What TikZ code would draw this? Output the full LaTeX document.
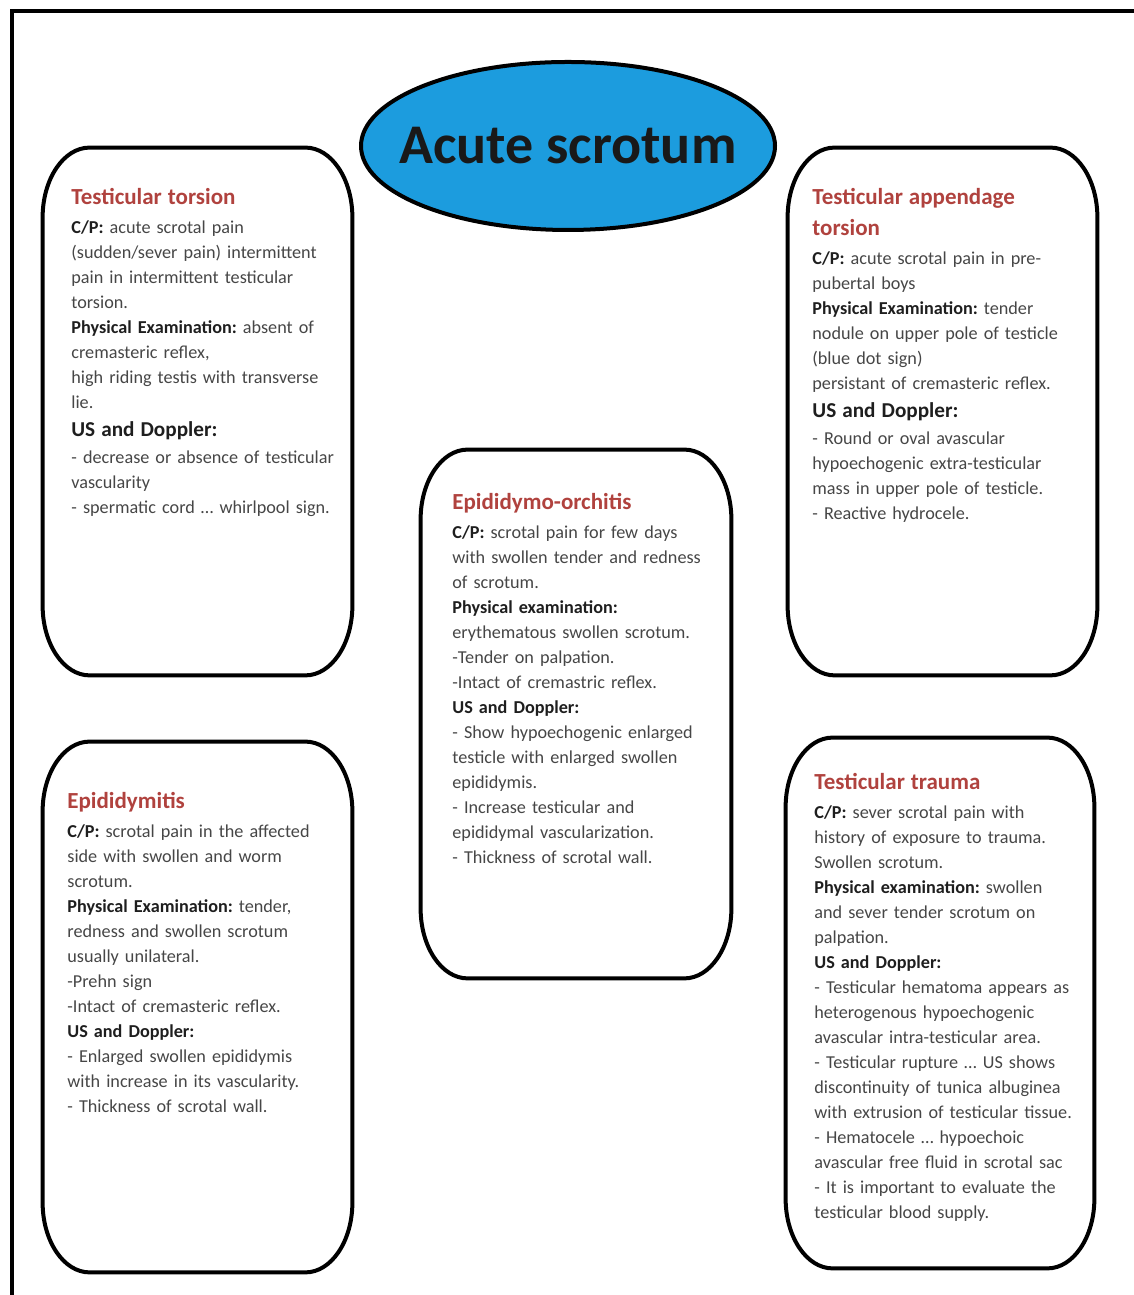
\documentclass[tikz,border=0pt]{standalone}
\usepackage{fontspec}
\setmainfont{Carlito}
\usetikzlibrary{shapes.geometric,calc}
\definecolor{titlered}{RGB}{176,66,62}
\definecolor{bodygray}{RGB}{70,70,70}
\definecolor{labcol}{RGB}{30,30,30}
\definecolor{ovalblue}{RGB}{28,156,222}
\newcommand\lab[1]{{\color{labcol}\bfseries #1}}
\newcommand\ttl[1]{{\fontsize{11.5}{12.5}\selectfont\bfseries\color{titlered}#1}}
\newcommand\bighead[1]{{\fontsize{10.6}{12.5}\selectfont\bfseries\color{labcol}#1}}
\newcommand\ovalframe[1]{%
  \draw[boxline] let \p1=(#1.south west), \p2=(#1.north east) in
    (\x1+23.5pt,\y2) -- (\x2-23.5pt,\y2)
    arc[start angle=90,end angle=0,x radius=23.5pt,y radius=35pt]
    -- (\x2,\y1+35pt)
    arc[start angle=0,end angle=-90,x radius=23.5pt,y radius=35pt]
    -- (\x1+23.5pt,\y1)
    arc[start angle=270,end angle=180,x radius=23.5pt,y radius=35pt]
    -- (\x1,\y2-35pt)
    arc[start angle=180,end angle=90,x radius=23.5pt,y radius=35pt]
    -- cycle;}
\tikzset{
  boxline/.style={line width=2pt, black},
  frameline/.style={line width=2pt, black},
  boxarea/.style={rectangle, draw=none, inner sep=0pt},
  boxtext/.style={anchor=north west, inner sep=0pt, align=left, text width=160pt,
    text=bodygray, font=\fontsize{9.1}{12.5}\selectfont\frenchspacing},
}
\begin{document}
\begin{tikzpicture}[x=0.5pt,y=0.5pt]
\useasboundingbox (0,0) rectangle (1134,1295);
% outer frame (left and top edges)
\coordinate (fbl) at (12,0);
\coordinate (ftl) at (12,1284);
\coordinate (ftr) at (1134,1284);
\draw[frameline] (fbl) -- (ftl) -- (ftr);

% title ellipse
\node[ellipse, draw=black, line width=2pt, fill=ovalblue, minimum width=207pt,
  minimum height=84pt, inner sep=0pt] (oval) at (568,1149) {};
\node[font=\fontsize{28}{30}\selectfont\bfseries, text=black!90, inner sep=0pt]
  (title) at (oval.center) {Acute scrotum};

% box areas
\node[boxarea, minimum width=154.5pt, minimum height=263.5pt] (tl) at (197.5,883.5) {};
\node[boxarea, minimum width=154.5pt, minimum height=263.5pt] (tr) at (942.5,883.5) {};
\node[boxarea, minimum width=155pt, minimum height=264pt] (ctr) at (576,581) {};
\node[boxarea, minimum width=154.5pt, minimum height=265pt] (bl) at (197.5,288) {};
\node[boxarea, minimum width=154pt, minimum height=265pt] (br) at (940,292) {};
\ovalframe{tl}
\ovalframe{tr}
\ovalframe{ctr}
\ovalframe{bl}
\ovalframe{br}

% texts
\node[boxtext] (tltext) at (71,1107) {%
\ttl{Testicular torsion}\\[2pt]
\lab{C/P:} acute scrotal pain\\
(sudden/sever pain) intermittent\\
pain in intermittent testicular\\
torsion.\\
\lab{Physical Examination:} absent of\\
cremasteric reflex,\\
high riding testis with transverse\\
lie.\\[1.5pt]
\bighead{US and Doppler:}\\[1pt]
- decrease or absence of testicular\\
vascularity\\
- spermatic cord \dots{} whirlpool sign.};

\node[boxtext] (trtext) at (812,1107) {%
\ttl{Testicular appendage}\\[3pt]
\ttl{torsion}\\[2pt]
\lab{C/P:} acute scrotal pain in pre-\\
pubertal boys\\
\lab{Physical Examination:} tender\\
nodule on upper pole of testicle\\
(blue dot sign)\\
persistant of cremasteric reflex.\\[1.5pt]
\bighead{US and Doppler:}\\[1pt]
- Round or oval avascular\\
hypoechogenic extra-testicular\\
mass in upper pole of testicle.\\
- Reactive hydrocele.};

\node[boxtext] (ctrtext) at (452,802) {%
\ttl{Epididymo-orchitis}\\[2pt]
\lab{C/P:} scrotal pain for few days\\
with swollen tender and redness\\
of scrotum.\\
\lab{Physical examination:}\\
erythematous swollen scrotum.\\
-Tender on palpation.\\
-Intact of cremastric reflex.\\
\lab{US and Doppler:}\\
- Show hypoechogenic enlarged\\
testicle with enlarged swollen\\
epididymis.\\
- Increase testicular and\\
epididymal vascularization.\\
- Thickness of scrotal wall.};

\node[boxtext] (bltext) at (67,503) {%
\ttl{Epididymitis}\\[2pt]
\lab{C/P:} scrotal pain in the affected\\
side with swollen and worm\\
scrotum.\\
\lab{Physical Examination:} tender,\\
redness and swollen scrotum\\
usually unilateral.\\
-Prehn sign\\
-Intact of cremasteric reflex.\\
\lab{US and Doppler:}\\
- Enlarged swollen epididymis\\
with increase in its vascularity.\\
- Thickness of scrotal wall.};

\node[boxtext] (brtext) at (814,522) {%
\ttl{Testicular trauma}\\[2pt]
\lab{C/P:} sever scrotal pain with\\
history of exposure to trauma.\\
Swollen scrotum.\\
\lab{Physical examination:} swollen\\
and sever tender scrotum on\\
palpation.\\
\lab{US and Doppler:}\\
- Testicular hematoma appears as\\
heterogenous hypoechogenic\\
avascular intra-testicular area.\\
- Testicular rupture \dots{} US shows\\
discontinuity of tunica albuginea\\
with extrusion of testicular tissue.\\
- Hematocele \dots{} hypoechoic\\
avascular free fluid in scrotal sac\\
- It is important to evaluate the\\
testicular blood supply.};
\end{tikzpicture}
\end{document}
